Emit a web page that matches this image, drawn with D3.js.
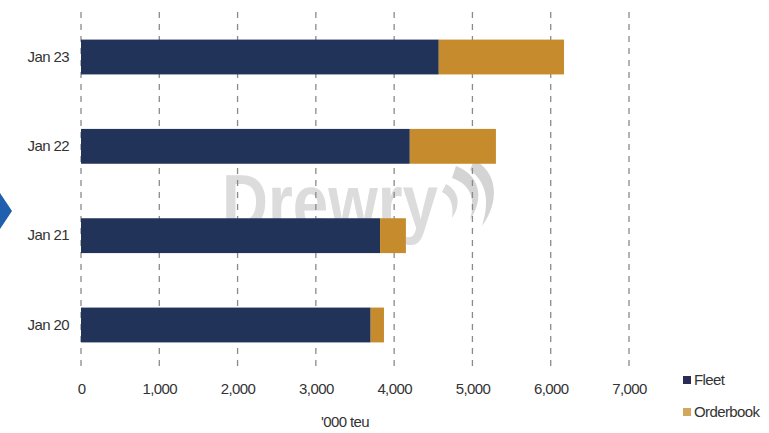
<!DOCTYPE html>
<html>
<head>
<meta charset="utf-8">
<script src="https://cdn.jsdelivr.net/npm/d3@7"></script>
<style>
  html, body { margin: 0; padding: 0; background: #fff; }
  svg { display: block; }
  text { font-family: "Liberation Sans Narrow", "Arial Narrow", "Liberation Sans", sans-serif; fill: #333; }
</style>
</head>
<body>
<svg id="chart" width="769" height="433"></svg>
<script>
// Container fleet and orderbook, thousand TEU
const categories = ["Jan 23", "Jan 22", "Jan 21", "Jan 20"];
const fleet      = [4570, 4200, 3820, 3700];
const orderbook  = [1600, 1100, 330, 170];
const xTicks     = [0, 1000, 2000, 3000, 4000, 5000, 6000, 7000];
const seriesNames = ["Fleet", "Orderbook"];
const colors      = ["#22335a", "#c68b2c"];

const svg = d3.select("#chart");
const margin = { left: 81, top: 11 };

const x = d3.scaleLinear().domain([0, 7000]).range([margin.left, 629]);
const y = d3.scaleBand().domain(categories).range([margin.top, 371]).paddingInner(0.61).paddingOuter(0.32);

const labelStyle = sel => sel
  .style("font-size", "15px")
  .style("letter-spacing", "-0.6px")
  .style("fill", "#333");

// Watermark
const wm = svg.append("g").attr("class", "watermark");
wm.append("text")
  .attr("x", 222).attr("y", 229)
  .attr("textLength", 216)
  .attr("lengthAdjust", "spacingAndGlyphs")
  .style("font-family", "'Liberation Sans', Arial, sans-serif")
  .style("font-weight", "bold")
  .style("font-size", "78px")
  .style("fill", "#dcdcdc")
  .text("Drewry");
wm.append("path")
  .attr("d", "M456,166 C478,174 486,196 470,220 C476,198 470,184 452,178 Z")
  .attr("fill", "#d4d4d4");
wm.append("path")
  .attr("d", "M474,160 C498,172 500,202 482,226 C490,200 486,182 470,170 Z")
  .attr("fill", "#d4d4d4");
wm.append("path")
  .attr("d", "M446,184 C458,190 462,204 452,218 C454,204 450,196 442,192 Z")
  .attr("fill", "#dadada");

// Dashed vertical gridlines
svg.append("g").selectAll("line")
  .data(xTicks)
  .join("line")
  .attr("x1", d => x(d)).attr("x2", d => x(d))
  .attr("y1", 12).attr("y2", 366)
  .attr("stroke", "#8a8a8a")
  .attr("stroke-width", 1.3)
  .attr("stroke-dasharray", "6,6");

// Stacked bars
const stackData = categories.map((c, i) => ({ cat: c, Fleet: fleet[i], Orderbook: orderbook[i] }));
const stack = d3.stack().keys(seriesNames)(stackData);
svg.append("g").selectAll("g")
  .data(stack)
  .join("g")
  .attr("fill", (d, i) => colors[i])
  .selectAll("rect")
  .data(d => d)
  .join("rect")
  .attr("x", d => x(d[0]))
  .attr("width", d => x(d[1]) - x(d[0]))
  .attr("y", d => y(d.data.cat))
  .attr("height", y.bandwidth());

// Category axis
const yAxis = svg.append("g")
  .attr("transform", `translate(${margin.left},0)`)
  .call(d3.axisLeft(y).tickSize(0).tickPadding(12));
yAxis.select(".domain").remove();
yAxis.selectAll("text").call(labelStyle);

// Value axis
const xAxis = svg.append("g")
  .attr("transform", `translate(0,383)`)
  .call(d3.axisBottom(x).tickValues(xTicks).tickSize(0).tickPadding(0).tickFormat(d3.format(",")));
xAxis.select(".domain").remove();
xAxis.selectAll("text").call(labelStyle);

svg.append("text")
  .attr("x", 345).attr("y", 427)
  .attr("text-anchor", "middle")
  .call(labelStyle)
  .text("'000 teu");

// Legend
const legend = svg.append("g").attr("transform", "translate(683,0)");
seriesNames.forEach((name, i) => {
  const cy = 380 + i * 32;
  legend.append("rect")
    .attr("x", 0).attr("y", cy - 4).attr("width", 8).attr("height", 8)
    .attr("fill", i === 0 ? "#2b2b55" : "#d2a85c");
  legend.append("text")
    .attr("x", 11).attr("y", cy)
    .attr("dy", "0.35em")
    .call(labelStyle)
    .text(name);
});

// Left-edge marker
svg.append("path")
  .attr("d", "M0,193 L12,211 L0,229 Z")
  .attr("fill", "#1f5fae");
</script>
</body>
</html>
